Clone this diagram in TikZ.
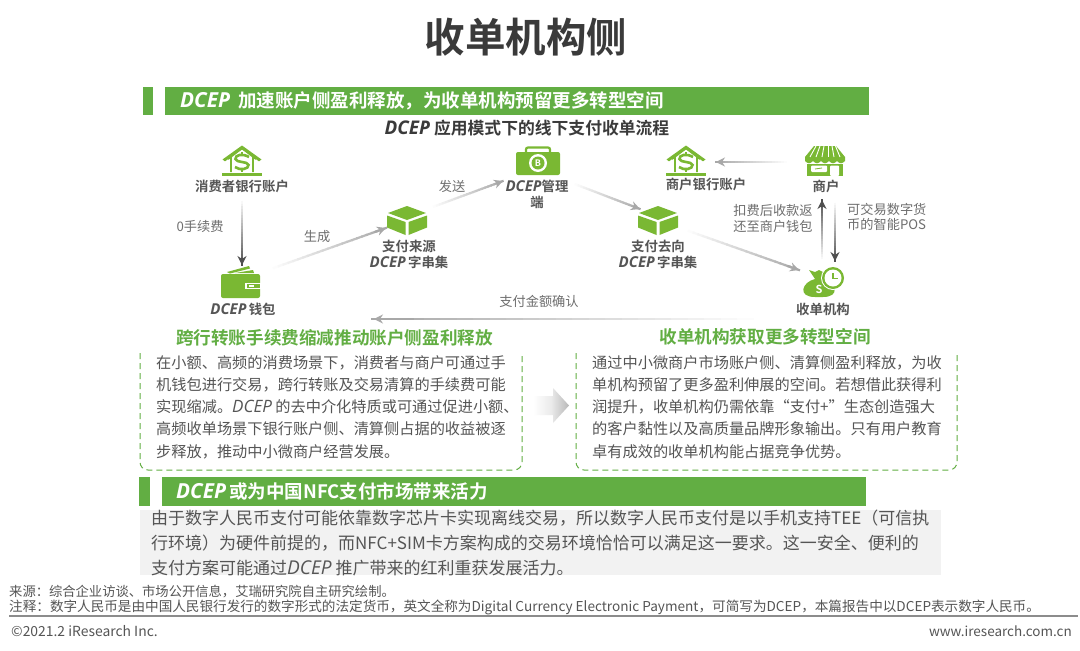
\documentclass[tikz,border=0pt]{standalone}
\usepackage{fontspec}
\usetikzlibrary{arrows.meta,calc,shadings}
\setmainfont{Noto Sans CJK SC}[BoldFont={Noto Sans CJK SC Bold}]
\newfontfamily\latf{Open Sans}[Scale=1.12]
\newcommand\dc{{\latf\itshape DCEP}}
\definecolor{barg}{HTML}{62AE43}
\definecolor{icong}{HTML}{7AB833}
\definecolor{txtd}{HTML}{3A3A3A}
\definecolor{txtg}{HTML}{555555}
\definecolor{arrg}{HTML}{A8A8A8}
\definecolor{arrd}{HTML}{4F4F4F}
\tikzset{
 x=1pt,y=-1pt,
 barfill/.style={fill=barg,draw=none},
 lab/.style={font=\fontsize{13.4}{16}\selectfont\bfseries,text=txtg,inner sep=0pt,align=center},
 capt/.style={font=\fontsize{13.2}{15.5}\selectfont,text=txtg!85,inner sep=0pt,align=center},
 body/.style={font=\fontsize{15.2}{22.3}\selectfont,text=txtg,inner sep=0pt,align=left,anchor=north west},
 grn/.style={font=\fontsize{17.6}{20}\selectfont\bfseries,text=barg,inner sep=0pt},
 dashbox/.style={draw=barg,line width=1pt,dash pattern=on 6pt off 4pt},
 icon/.style={fill=icong,draw=none}
}
% gradient connector: #1 start, #2 end, #3 end colour
\newcommand\gradconn[3]{%
 \foreach \i in {0,...,23}{%
  \pgfmathsetmacro\pa{\i/24}\pgfmathsetmacro\pb{(\i+1.2)/24}\pgfmathtruncatemacro\pc{\i*100/23}%
  \draw[line width=2.2pt,color=#3!\pc!white] ($(#1)!\pa!(#2)$) -- ($(#1)!\pb!(#2)$);}%
 \draw[line width=2.2pt,color=#3,-{Stealth[length=9pt,width=9pt]}] ($(#1)!.9!(#2)$) -- (#2);}
\newcommand\bankicon[2]{\begin{scope}[shift={(#1,#2)}]
 \draw[icong,line width=1.9pt,line join=miter] (-14,-2) -- (0,-13) -- (14,-2) (-11,-4) -- (-11,11) (11,-4) -- (11,11);
 \fill[icong] (-19.5,-1.5) -- (0,-15.5) -- (19.5,-1.5) -- (17,0.3) -- (0,-11.5) -- (-17,0.3) -- cycle;
 \fill[icong] (-20,11.5) rectangle (20,14.5);
 \draw[icong,line width=2.6pt] (7,-4) .. controls (0,-8) and (-7,-6) .. (-6.5,-2) .. controls (-6,2) and (6,0) .. (6.5,4) .. controls (7,8) and (-2,10) .. (-7,6);
 \draw[icong,line width=1.6pt] (0,-9) -- (0,-6) (0,8) -- (0,11);
\end{scope}}
\newcommand\boxicon[2]{\begin{scope}[shift={(#1,#2)}]
 \fill[icong] (0,-14.5) -- (19,-7.5) -- (0,-0.5) -- (-19,-7.5) -- cycle;
 \fill[icong] (-20,-5) -- (-1.5,1.5) -- (-1.5,14.5) -- (-20,7) -- cycle;
 \fill[icong] (20,-5) -- (1.5,1.5) -- (1.5,14.5) -- (20,7) -- cycle;
\end{scope}}
\begin{document}
\begin{tikzpicture}
\useasboundingbox (0,0) rectangle (1080,651);
\fill[white] (0,0) rectangle (1080,651);
% title
\node[inner sep=0pt,text=txtd,font=\fontsize{40.5}{44}\selectfont\bfseries] (title) at (526,37) {收单机构侧};
% top bar
\fill[barfill] (143,87) rectangle (153,115);
\fill[barfill] (165,87) rectangle (869,115);
\node[inner sep=0pt,anchor=west,text=white,font=\fontsize{18.5}{20}\selectfont\bfseries] (bar1) at (180,101) {\dc\hspace{8pt}加速账户侧盈利释放，为收单机构预留更多转型空间};
\node[inner sep=0pt,text=txtd,font=\fontsize{16.8}{18}\selectfont\bfseries] (sub) at (527,128) {\dc\hspace{4pt}应用模式下的线下支付收单流程};
% icons
\bankicon{242}{161}
\bankicon{686}{161}
\boxicon{407}{220.5}
\boxicon{658}{220.5}
% wallet
\begin{scope}[shift={(241,284)}]
 \fill[icong] (-14,-12) -- (8,-18) -- (9,-15.5) -- (-11,-10.5) -- cycle;
 \fill[icong] (-6,-11) -- (12,-14) -- (13,-11) -- cycle;
 \fill[icong,rounded corners=2pt] (-20,-10) rectangle (19,14);
 \fill[white] (4,-1) rectangle (21,5);
 \fill[icong] (6,0) rectangle (19,4);
 \fill[white] (8,1) rectangle (13,3);
\end{scope}
% briefcase
\begin{scope}[shift={(538,161)}]
 \draw[icong,line width=2.2pt,rounded corners=2pt] (-12,-8) -- (-12,-13.5) -- (12,-13.5) -- (12,-8);
 \fill[icong,rounded corners=2pt] (-22,-9) rectangle (22,14);
 \fill[white] (0,2) circle (9);
 \fill[icong] (0,2) circle (6.5);
 \node[inner sep=0pt,text=white,font=\fontsize{9}{9}\selectfont\bfseries] (btc) at (0,2) {B};
\end{scope}
% shop
\begin{scope}[shift={(825,161)}]
 \fill[icong] (-11,-15) -- (11,-15) -- (20,-4) -- (20,0) .. controls (17,3) and (15,3) .. (12,0) .. controls (9,3) and (7,3) .. (4,0) .. controls (1,3) and (-1,3) .. (-4,0) .. controls (-7,3) and (-9,3) .. (-12,0) .. controls (-15,3) and (-17,3) .. (-20,0) -- (-20,-4) -- cycle;
 \foreach \a/\b in {-9/-15,-5/-9,-1/-3,3/3,7/9,10.5/15}{\draw[white,line width=.9pt] (\a,-15) -- (\b,-4);}
 \fill[icong] (-18,3) rectangle (18,15);
 \fill[white,rounded corners=1pt] (-14,4.5) rectangle (2,11);
 \fill[white,rounded corners=1pt] (5,4.5) rectangle (14,15);
 \draw[icong,line width=.8pt] (-10,8) -- (-3,7);
\end{scope}
% money bag
\begin{scope}[shift={(819,284)}]
 \fill[icong] (-4,13) .. controls (-22,13) and (-17,-2) .. (-4,-5) -- (-10,-14) -- (-4,-12) -- (0,-14) -- (4,-12) -- (9,-14) -- (4,-5) .. controls (17,-2) and (22,13) .. (4,13) -- cycle;
 \node[inner sep=0pt,text=white,font=\fontsize{11}{11}\selectfont\bfseries] (dollar) at (0,5) {S};
 \fill[white] (14,-6) circle (12);
 \fill[icong] (14,-6) circle (11);
 \fill[white] (14,-6) circle (8.5);
 \draw[icong,line width=1.2pt] (14,-11) -- (14,-5.5) -- (19,-5.5);
\end{scope}
% labels
\node[lab] (n1) at (242,186) {消费者银行账户};
\node[lab] (n2) at (243,309) {\dc\,钱包};
\node[lab] (n3) at (409,254) {支付来源\\\dc\,字串集};
\node[lab] (n4) at (537,194) {\dc 管理\\端};
\node[lab] (n5) at (658,254) {支付去向\\\dc\,字串集};
\node[lab] (n6) at (706,184) {商户银行账户};
\node[lab] (n7) at (826,186) {商户};
\node[lab] (n8) at (823,309) {收单机构};
% connector ends
\coordinate (a1) at (242,198); \coordinate (a2) at (242,265);
\coordinate (b1) at (268,270); \coordinate (b2) at (386,228);
\coordinate (c1) at (430,208); \coordinate (c2) at (503,181);
\coordinate (d1) at (572,183); \coordinate (d2) at (640,209);
\coordinate (e1) at (683,229); \coordinate (e2) at (799,270);
\coordinate (f1) at (790,162); \coordinate (f2) at (716,162);
\coordinate (g1) at (822,262); \coordinate (g2) at (822,200);
\coordinate (h1) at (835,200); \coordinate (h2) at (835,261);
\coordinate (i1) at (770,319); \coordinate (i2) at (374,319);
\gradconn{a1}{a2}{arrd}
\gradconn{b1}{b2}{arrg}
\gradconn{c1}{c2}{arrg}
\gradconn{d1}{d2}{arrg}
\gradconn{e1}{e2}{arrg}
\gradconn{f1}{f2}{arrg}
\gradconn{g1}{g2}{arrd}
\gradconn{h1}{h2}{arrd}
\gradconn{i1}{i2}{arrg}
% connector captions
\node[capt] (l1) at (200,226) {0手续费};
\node[capt] (l2) at (317,237) {生成};
\node[capt] (l3) at (452,186) {发送};
\node[capt] (l4) at (773,218.5) {扣费后收款返\\还至商户钱包};
\node[capt,align=left,anchor=west] (l5) at (847,217) {可交易数字货\\币的智能POS};
\node[capt] (l6) at (539,301) {支付金额确认};
% green headings
\node[grn] (g1t) at (334.5,338) {跨行转账手续费缩减推动账户侧盈利释放};
\node[grn] (g2t) at (765,337) {收单机构获取更多转型空间};
% dashed boxes
\draw[dashbox] (140,353) -- (140,462) .. controls (140,466) and (143,470) .. (148,470) -- (514,470) .. controls (519,470) and (522,466) .. (522,462) -- (522,353);
\draw[dashbox] (576,353) -- (576,462) .. controls (576,466) and (579,470) .. (584,470) -- (949,470) .. controls (954,470) and (957,466) .. (957,462) -- (957,353);
\node[body] (bl) at (156,355) {在小额、高频的消费场景下，消费者与商户可通过手\\机钱包进行交易，跨行转账及交易清算的手续费可能\\实现缩减。\dc\ 的去中介化特质或可通过促进小额、\\高频收单场景下银行账户侧、清算侧占据的收益被逐\\步释放，推动中小微商户经营发展。};
\node[body] (br) at (592,355) {通过中小微商户市场账户侧、清算侧盈利释放，为收\\单机构预留了更多盈利伸展的空间。若想借此获得利\\润提升，收单机构仍需依靠“支付+”生态创造强大\\的客户黏性以及高质量品牌形象输出。只有用户教育\\卓有成效的收单机构能占据竞争优势。};
% middle block arrow
\shade[left color=white,right color=black!28,shading angle=90,middle color=black!8] (533,396) -- (553,396) -- (553,388) -- (569,405.5) -- (553,423) -- (553,415) -- (533,415) -- cycle;
% bottom bar
\fill[barfill] (139,477) rectangle (150,506);
\fill[barfill] (162,477) rectangle (866,506);
\node[inner sep=0pt,anchor=west,text=white,font=\fontsize{18.5}{20}\selectfont\bfseries] (bar2) at (176,491) {\dc\,或为中国NFC支付市场带来活力};
\fill[black!5] (140,510) rectangle (941,575);
\node[inner sep=0pt,anchor=north west,align=left,text=txtg,font=\fontsize{17}{25}\selectfont] (para) at (151,510) {由于数字人民币支付可能依靠数字芯片卡实现离线交易，所以数字人民币支付是以手机支持TEE（可信执\\行环境）为硬件前提的，而NFC+SIM卡方案构成的交易环境恰恰可以满足这一要求。这一安全、便利的\\支付方案可能通过\dc\ 推广带来的红利重获发展活力。};
% footer
\node[inner sep=0pt,anchor=west,text=txtg,font=\fontsize{13.3}{14}\selectfont] (src) at (9,592) {来源：综合企业访谈、市场公开信息，艾瑞研究院自主研究绘制。};
\node[inner sep=0pt,anchor=west,text=txtg,font=\fontsize{13.6}{14}\selectfont] (note) at (9,607) {注释：数字人民币是由中国人民银行发行的数字形式的法定货币，英文全称为Digital Currency Electronic Payment，可简写为DCEP，本篇报告中以DCEP表示数字人民币。};
\coordinate (r1) at (9,616); \coordinate (r2) at (1078,616);
\draw[black!45,line width=1.6pt] (r1) -- (r2);
\node[inner sep=0pt,anchor=west,text=txtg,font=\fontsize{13.9}{14}\selectfont] (copy) at (11,631) {©2021.2 iResearch Inc.};
\node[inner sep=0pt,anchor=east,text=txtg,font=\fontsize{13.5}{14}\selectfont] (web) at (1072,631) {www.iresearch.com.cn};
\end{tikzpicture}
\end{document}
